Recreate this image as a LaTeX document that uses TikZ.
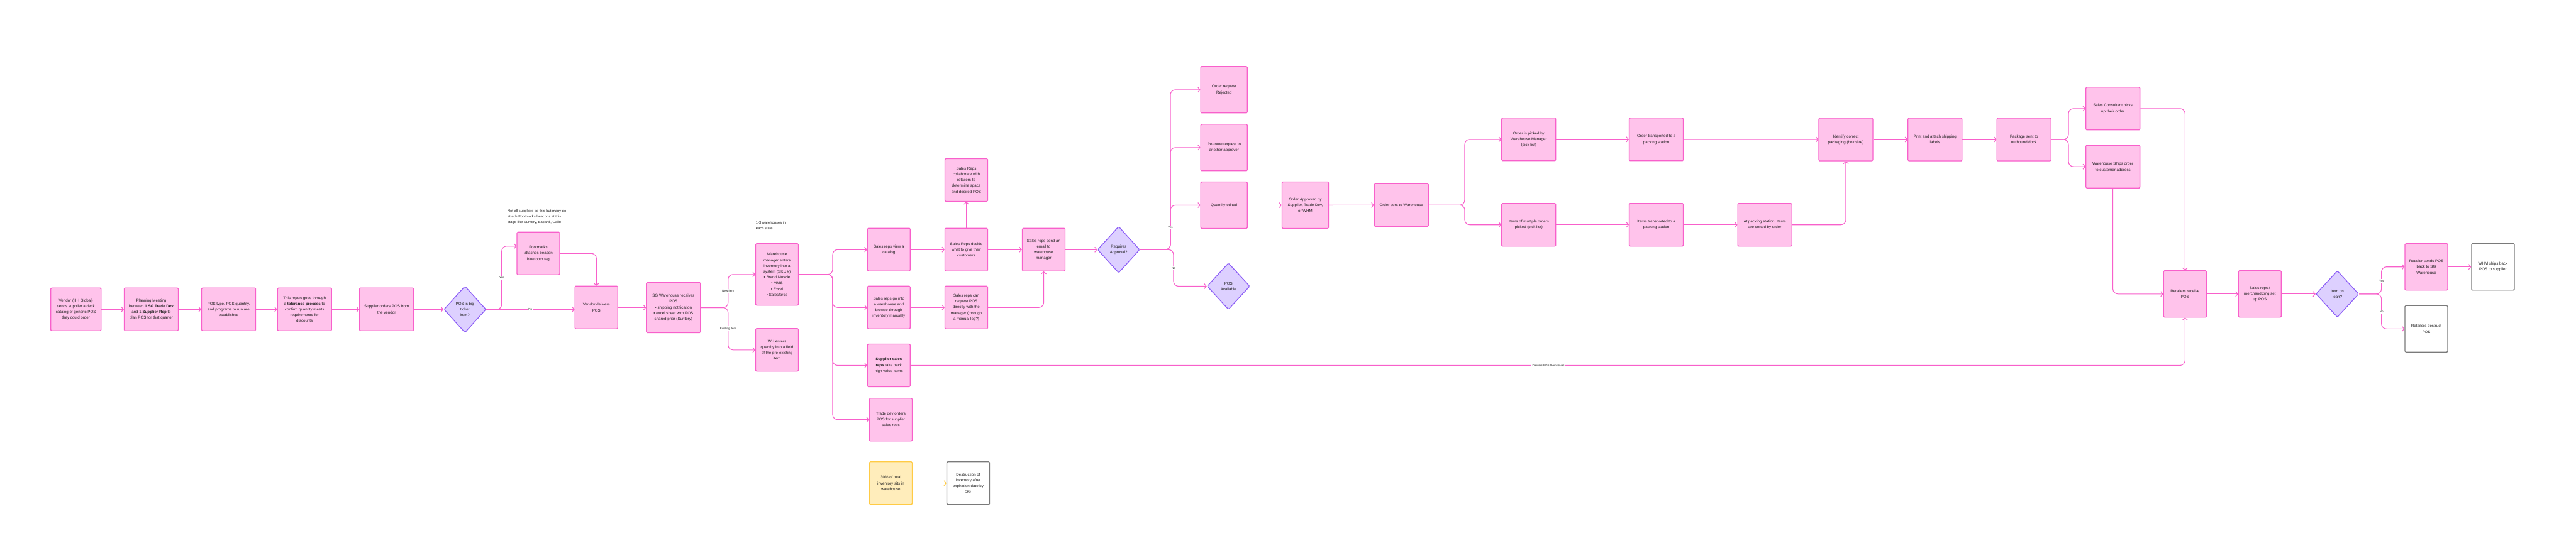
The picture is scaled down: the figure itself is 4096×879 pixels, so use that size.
\documentclass[tikz,border=0pt]{standalone}
\usepackage{fontspec}
\setmainfont{Liberation Sans}
\usetikzlibrary{arrows.meta,shapes.geometric}
\definecolor{pinkfill}{HTML}{FFC3EB}
\definecolor{pinkline}{HTML}{F860CB}
\definecolor{violetfill}{HTML}{DDD0FF}
\definecolor{violetline}{HTML}{8B5CF6}
\definecolor{amberfill}{HTML}{FFEDBB}
\definecolor{amberline}{HTML}{FFCB45}
\definecolor{greyline}{HTML}{7A7A7A}
\definecolor{inkgray}{HTML}{1E1E1E}
\begin{document}
\begin{tikzpicture}[x=1pt, y=-1pt, >={Straight Barb[length=3.2pt,width=8pt]},
    font=\fontsize{6.2}{9.2}\selectfont, text=inkgray,
    box/.style={draw=pinkline, fill=pinkfill, line width=1.3pt, rounded corners=1.5pt,
      align=center, inner sep=0pt, minimum width=68pt, minimum height=68pt},
    wide/.style={box, minimum width=86pt},
    tall/.style={box, minimum width=74pt, minimum height=74pt},
    decision/.style={diamond, draw=violetline, fill=violetfill, line width=1.2pt,
      rounded corners=1.5pt, align=center, inner sep=0pt, minimum width=68pt, minimum height=74pt},
    endbox/.style={box, draw=greyline, fill=white},
    memo/.style={box, draw=amberline, fill=amberfill},
    conn/.style={->, draw=pinkline, line width=1.1pt, rounded corners=8pt},
    lbl/.style={fill=white, inner sep=1.5pt, font=\fontsize{4.5}{5}\selectfont},
    note/.style={align=left, anchor=north west, inner sep=0pt, font=\fontsize{5.8}{9}\selectfont}]
    \fill[white] (0,0) rectangle (4096,879);
    \useasboundingbox (0,0) rectangle (4096,879);

    % planning and ordering
    \node[box, minimum width=80pt] (vendor) at (120.7,492.3) {Vendor (HH Global)\\sends supplier a deck\\catalog of generic POS\\they could order};
    \node[wide] (planning) at (240.5,492.3) {Planning Meeting\\between \textbf{1 SG Trade Dev}\\and 1 \textbf{Supplier Rep} to\\plan POS for that quarter};
    \node[wide] (postype) at (363.5,492.3) {POS type, POS quantity,\\and programs to run are\\established};
    \node[wide] (tolerance) at (484.2,492.3) {This report goes through\\a \textbf{tolerance process} to\\confirm quantity meets\\requirements for\\discounts};
    \node[wide] (suporder) at (614.7,492.3) {Supplier orders POS from\\the vendor};
    \node[decision, minimum width=67pt] (bigticket) at (739.3,492.3) {POS is big\\ticket\\item?};
    \node[box] (footmarks) at (856,403.3) {Footmarks\\attaches beacon\\bluetooth tag};
    \node[note] (beaconnote) at (806.7,333) {Not all suppliers do this but many do\\attach Footmarks beacons at this\\stage like Suntory, Bacardi, Gallo};
    \node[box] (delivers) at (948.3,489.3) {Vendor delivers\\POS};

    % warehouse intake
    \node[wide, minimum height=80pt] (sgrecv) at (1070.8,489.5) {SG Warehouse receives\\POS\\\textbullet\ shipping notification\\\textbullet\ excel sheet with POS\\shared prior (Suntory)};
    \node[note] (statenote) at (1201.7,352) {1-3 warehouses in\\each state};
    \node[box, minimum height=98pt] (whmgr) at (1235.5,436.8) {Warehouse\\manager enters\\inventory into a\\system (SKU \#)\\\textbullet\ Brand Muscle\\\textbullet\ MMS\\\textbullet\ Excel\\\textbullet\ Salesforce};
    \node[box] (whenter) at (1235.5,556.8) {WH enters\\quantity into a field\\of the pre-existing\\item};

    % sales reps
    \node[box] (catalog) at (1413.3,397.2) {Sales reps view a\\catalog};
    \node[box] (decide) at (1536.5,397.2) {Sales Reps decide\\what to give their\\customers};
    \node[box] (collab) at (1536.5,286.5) {Sales Reps\\collaborate with\\retailers to\\determine space\\and desired POS};
    \node[box] (browse) at (1413.3,489.3) {Sales reps go into\\a warehouse and\\browse through\\inventory manually};
    \node[box] (request) at (1536.5,489.3) {Sales reps can\\request POS\\directly with the\\manager (through\\a manual log?)};
    \node[box] (takeback) at (1413.3,581.5) {\textbf{Supplier sales}\\\textbf{reps} take back\\high value items};
    \node[box] (tradedev) at (1416.5,667.7) {Trade dev orders\\POS for supplier\\sales reps};
    \node[box] (email) at (1659.5,397.3) {Sales reps send an\\email to\\warehouse\\manager};
    \node[memo] (idle) at (1416.5,768.8) {30\% of total\\inventory sits in\\warehouse};
    \node[endbox] (expired) at (1539.5,768.8) {Destruction of\\inventory after\\expiration date by\\SG};

    % approval
    \node[decision, minimum width=67pt] (approval) at (1778.7,397.3) {Requires\\Approval?};
    \node[tall] (rejected) at (1946.3,142.8) {Order request\\Rejected};
    \node[tall] (reroute) at (1946.3,234.8) {Re-route request to\\another approver};
    \node[tall] (qtyedit) at (1946.3,326.5) {Quantity edited};
    \node[decision] (available) at (1953.3,455.5) {POS\\Available};
    \node[tall] (approved) at (2075.5,326.5) {Order Approved by\\Supplier, Trade Dev,\\or WHM};
    \node[wide] (towh) at (2228.2,326.3) {Order sent to Warehouse};

    % picking and packing
    \node[wide] (picked) at (2430.8,221.8) {Order is picked by\\Warehouse Manager\\(pick list)};
    \node[wide] (transp) at (2633.6,221.8) {Order transported to a\\packing station};
    \node[wide] (multi) at (2430.8,357.7) {Items of multiple orders\\picked (pick list)};
    \node[wide] (itemstransp) at (2633.6,357.7) {Items transported to a\\packing station};
    \node[wide] (sorted) at (2806.2,357.7) {At packing station, items\\are sorted by order};
    \node[wide] (identify) at (2935,222) {Identify correct\\packaging (box size)};
    \node[wide] (labels) at (3076.8,222) {Print and attach shipping\\labels};
    \node[wide] (outbound) at (3218.2,222) {Package sent to\\outbound dock};
    \node[wide] (pickup) at (3359.6,172.8) {Sales Consultant picks\\up their order};
    \node[wide] (shipcust) at (3359.6,265.2) {Warehouse Ships order\\to customer address};

    % retailers
    \node[box, minimum height=74pt] (retrecv) at (3474.3,467.8) {Retailers receive\\POS};
    \node[box, minimum height=74pt] (setup) at (3593.3,467.8) {Sales reps /\\merchandizing set\\up POS};
    \node[decision] (onloan) at (3716.5,467.8) {Item on\\loan?};
    \node[box, minimum height=74pt] (sendback) at (3858,424.7) {Retailer sends POS\\back to SG\\Warehouse};
    \node[endbox, minimum height=74pt] (shipback) at (3963.9,424.7) {WHM ships back\\POS to supplier};
    \node[endbox, minimum height=74pt] (destruct) at (3858,523.3) {Retailers destruct\\POS};

    \draw[conn] (vendor) -- (planning);
    \draw[conn] (planning) -- (postype);
    \draw[conn] (postype) -- (tolerance);
    \draw[conn] (tolerance) -- (suporder);
    \draw[conn] (suporder) -- (bigticket);
    \draw[conn] (bigticket.east) -- (797.7,492.3) |- ([yshift=11.6pt]footmarks.west);
    \draw[conn] (bigticket.east) -- (bigticket.east -| delivers.west);
    \draw[conn] (footmarks.east) -| (delivers.north);
    \draw[conn] (delivers) -- (sgrecv);
    \draw[conn] (sgrecv.east) -- (1157.7,489.5) |- (whmgr.west);
    \draw[conn] (sgrecv.east) -- (1157.7,489.5) |- (whenter.west);
    \draw[conn] (whmgr.east) -- (1324,436.8) |- (catalog.west);
    \draw[conn] (whmgr.east) -- (1324,436.8) |- (browse.west);
    \draw[conn] (whmgr.east) -- (1324,436.8) |- (takeback.west);
    \draw[conn] (whmgr.east) -- (1324,436.8) |- (tradedev.west);
    \draw[conn] (catalog) -- (decide);
    \draw[conn] (decide) -- (collab);
    \draw[conn] (decide) -- (email);
    \draw[conn] (browse) -- (request);
    \draw[conn] (request.east) -| (email.south);
    \draw[conn] (takeback.east) -| (retrecv.south);
    \draw[conn] (email) -- (approval);
    \draw[conn] (approval.east) -- (1861,397.3) |- (rejected.west);
    \draw[conn] (approval.east) -- (1861,397.3) |- (reroute.west);
    \draw[conn] (approval.east) -- (1861,397.3) |- (qtyedit.west);
    \draw[conn] (approval.east) -- (1866,397.3) |- (available.west);
    \draw[conn] (qtyedit) -- (approved);
    \draw[conn] (approved) -- (towh);
    \draw[conn] (towh.east) -- (2329,326.3) |- (picked.west);
    \draw[conn] (towh.east) -- (2329,326.3) |- (multi.west);
    \draw[conn] (picked) -- (transp);
    \draw[conn] (transp) -- (identify);
    \draw[conn] (multi) -- (itemstransp);
    \draw[conn] (itemstransp) -- (sorted);
    \draw[conn] (sorted.east) -| (identify.south);
    \draw[conn] (identify) -- (labels);
    \draw[conn] (labels) -- (outbound);
    \draw[conn] (outbound.east) -- (3289,222) |- (pickup.west);
    \draw[conn] (outbound.east) -- (3289,222) |- (shipcust.west);
    \draw[conn] (pickup.east) -| (retrecv.north);
    \draw[conn] (shipcust.south) |- (retrecv.west);
    \draw[conn] (retrecv) -- (setup);
    \draw[conn] (setup) -- (onloan);
    \draw[conn] (onloan.east) -- (3786.6,467.8) |- (sendback.west);
    \draw[conn] (onloan.east) -- (3786.6,467.8) |- (destruct.west);
    \draw[conn] (sendback) -- (shipback);
    \draw[conn, draw=amberline] (idle) -- (expired);

    \node[lbl] (yesbig) at (797.7,442) {Yes};
    \node[lbl] (nobig) at (843.3,491.5) {No};
    \node[lbl] (newitem) at (1157.7,463.3) {New item};
    \node[lbl] (olditem) at (1157.7,523) {Existing item};
    \node[lbl] (yesappr) at (1861,361.7) {Yes};
    \node[lbl] (noappr) at (1866,426.7) {No};
    \node[lbl] (selfdeliver) at (2462,581.5) {Delivers POS themselves};
    \node[lbl] (yesloan) at (3786.6,446.7) {Yes};
    \node[lbl] (noloan) at (3786.6,496) {No};
\end{tikzpicture}
\end{document}
